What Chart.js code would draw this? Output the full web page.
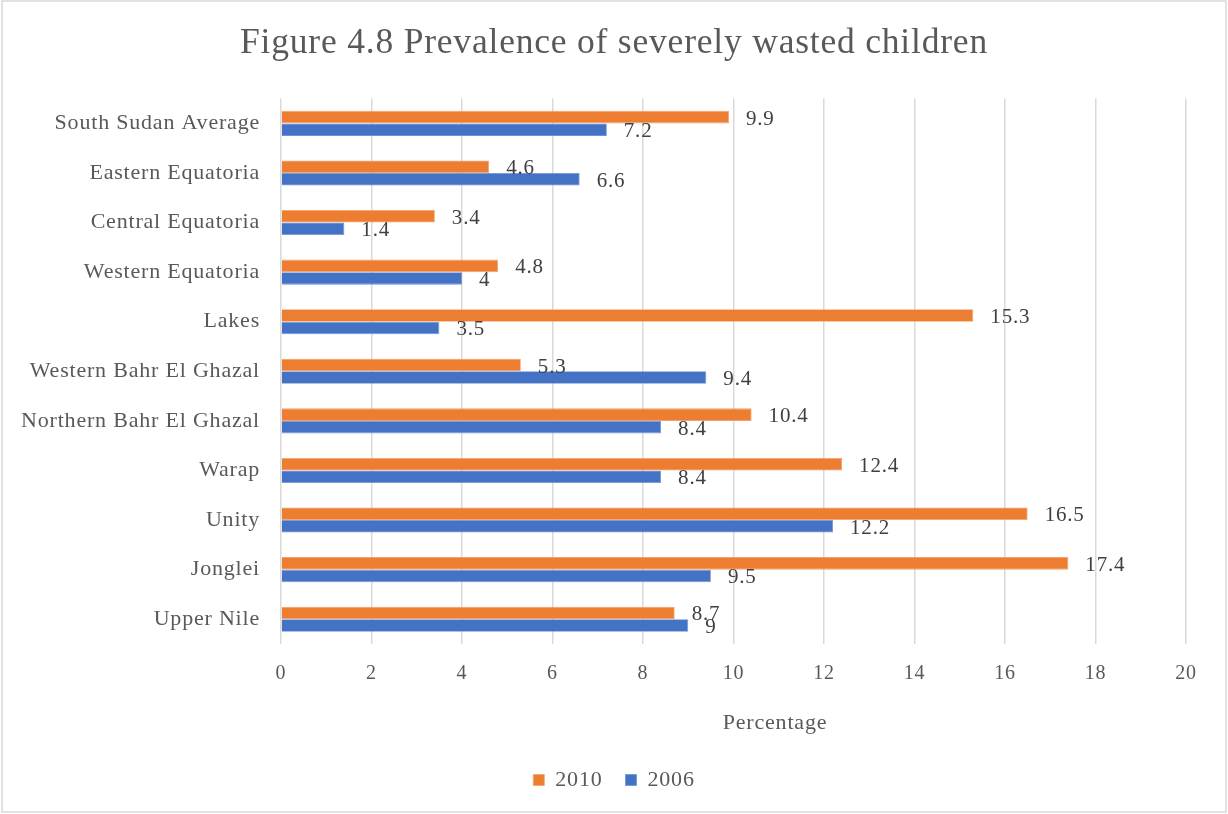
<!DOCTYPE html>
<html>
<head>
<meta charset="utf-8">
<script src="https://cdn.jsdelivr.net/npm/chart.js@4"></script>
<style>
html,body{margin:0;padding:0;background:#fff;}
#wrap{width:1228px;height:814px;position:relative;}
</style>
</head>
<body>
<div id="wrap"><canvas id="c" width="1228" height="814"></canvas></div>
<script>
const categories = ["South Sudan Average","Eastern Equatoria","Central Equatoria","Western Equatoria","Lakes","Western Bahr El Ghazal","Northern Bahr El Ghazal","Warap","Unity","Jonglei","Upper Nile"];
const values2010 = [9.9,4.6,3.4,4.8,15.3,5.3,10.4,12.4,16.5,17.4,8.7];
const values2006 = [7.2,6.6,1.4,4,3.5,9.4,8.4,8.4,12.2,9.5,9];
const seriesNames = ["2010","2006"];
const xTicks = [0,2,4,6,8,10,12,14,16,18,20];
const titleText = "Figure 4.8 Prevalence of severely wasted children";
const xAxisTitle = "Percentage";

const FONT = "'Liberation Serif','Times New Roman',serif";
const SPACING = '0.8px';

function setSpacing(chart){ try{ chart.ctx.letterSpacing = SPACING; }catch(e){} }

const spacingPlugin = {
  id:'spacing',
  beforeInit: setSpacing,
  beforeUpdate: setSpacing,
  beforeLayout: setSpacing,
  beforeDraw: setSpacing
};

const bgPlugin = {
  id:'bg',
  beforeDraw(chart){
    const ctx = chart.ctx;
    ctx.save();
    ctx.fillStyle='#fff';
    ctx.fillRect(0,0,chart.width,chart.height);
    ctx.strokeStyle='#d9d9d9';
    ctx.lineWidth=1.5;
    ctx.strokeRect(2,1,chart.width-4,chart.height-3);
    ctx.restore();
  }
};

const labelPlugin = {
  id:'barLabels',
  afterDatasetsDraw(chart){
    const ctx = chart.ctx;
    ctx.save();
    ctx.font = "21px " + FONT;
    ctx.fillStyle = '#404040';
    ctx.textAlign = 'left';
    ctx.textBaseline = 'middle';
    chart.data.datasets.forEach((ds,di)=>{
      const meta = chart.getDatasetMeta(di);
      meta.data.forEach((el,i)=>{
        ctx.fillText(String(ds.data[i]), el.x + 17, el.y + 2);
      });
    });
    // x-axis title
    ctx.font = "22px " + FONT;
    ctx.fillStyle = '#595959';
    ctx.textAlign = 'center';
    ctx.fillText(xAxisTitle, 775, 723);
    ctx.restore();
  }
};

new Chart(document.getElementById('c'),{
  type:'bar',
  data:{
    labels:categories,
    datasets:[
      {label:seriesNames[0],data:values2010,backgroundColor:'#ED7D31',borderColor:'#F4A070',borderWidth:0.8,categoryPercentage:0.505,barPercentage:1},
      {label:seriesNames[1],data:values2006,backgroundColor:'#4472C4',borderColor:'#6f93d3',borderWidth:0.8,categoryPercentage:0.505,barPercentage:1}
    ]
  },
  options:{
    indexAxis:'y',
    responsive:false,
    animation:false,
    devicePixelRatio:1,
    layout:{padding:{left:0,right:0,top:0,bottom:13}},
    scales:{
      x:{
        min:0,max:20,
        afterBuildTicks(s){ s.ticks = xTicks.map(v=>({value:v})); },
        grid:{color:'#d9d9d9',lineWidth:1.5,drawTicks:false},
        border:{display:false},
        ticks:{color:'#595959',font:{family:FONT,size:20},padding:18},
        afterFit(s){ s.height = 102; }
      },
      y:{
        grid:{display:false},
        border:{display:false},
        ticks:{color:'#595959',font:{family:FONT,size:22},padding:13},
        afterFit(s){ s.width = 281; }
      },
      y2:{
        type:'category',
        axis:'y',
        position:'right',
        labels:categories,
        grid:{display:false},
        border:{display:false},
        ticks:{display:false},
        afterFit(s){ s.width = 42; }
      }
    },
    plugins:{
      title:{display:true,text:titleText,color:'#595959',font:{family:FONT,size:35.5,weight:'normal'},padding:{top:22,bottom:34}},
      legend:{
        position:'bottom',
        labels:{color:'#595959',font:{family:FONT,size:22},boxWidth:11,boxHeight:11,padding:23}
      },
      tooltip:{enabled:false}
    }
  },
  plugins:[spacingPlugin,bgPlugin,labelPlugin]
});
</script>
</body>
</html>
